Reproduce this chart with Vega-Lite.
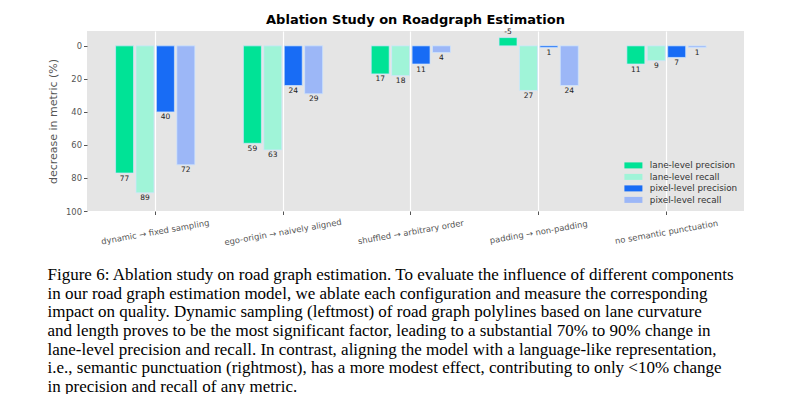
{
  "$schema": "https://vega.github.io/schema/vega-lite/v6.json",
  "padding": {"left": 47, "top": 14, "right": 5, "bottom": 0},
  "background": "white",
  "title": {
    "text": [
      "Figure 6: Ablation study on road graph estimation. To evaluate the influence of different components",
      "in our road graph estimation model, we ablate each configuration and measure the corresponding",
      "impact on quality. Dynamic sampling (leftmost) of road graph polylines based on lane curvature",
      "and length proves to be the most significant factor, leading to a substantial 70% to 90% change in",
      "lane-level precision and recall. In contrast, aligning the model with a language-like representation,",
      "i.e., semantic punctuation (rightmost), has a more modest effect, contributing to only <10% change",
      "in precision and recall of any metric."
    ],
    "orient": "bottom",
    "anchor": "start",
    "frame": "bounds",
    "font": "Liberation Serif",
    "fontSize": 17,
    "fontWeight": "normal",
    "lineHeight": 18.6,
    "color": "black",
    "offset": 21
  },
  "datasets": {
    "bars": [
      {"config": "dynamic → fixed sampling", "metric": "lane-level precision", "value": 77},
      {"config": "dynamic → fixed sampling", "metric": "lane-level recall", "value": 89},
      {"config": "dynamic → fixed sampling", "metric": "pixel-level precision", "value": 40},
      {"config": "dynamic → fixed sampling", "metric": "pixel-level recall", "value": 72},
      {"config": "ego-origin → naively aligned", "metric": "lane-level precision", "value": 59},
      {"config": "ego-origin → naively aligned", "metric": "lane-level recall", "value": 63},
      {"config": "ego-origin → naively aligned", "metric": "pixel-level precision", "value": 24},
      {"config": "ego-origin → naively aligned", "metric": "pixel-level recall", "value": 29},
      {"config": "shuffled → arbitrary order", "metric": "lane-level precision", "value": 17},
      {"config": "shuffled → arbitrary order", "metric": "lane-level recall", "value": 18},
      {"config": "shuffled → arbitrary order", "metric": "pixel-level precision", "value": 11},
      {"config": "shuffled → arbitrary order", "metric": "pixel-level recall", "value": 4},
      {"config": "padding → non-padding", "metric": "lane-level precision", "value": -5},
      {"config": "padding → non-padding", "metric": "lane-level recall", "value": 27},
      {"config": "padding → non-padding", "metric": "pixel-level precision", "value": 1},
      {"config": "padding → non-padding", "metric": "pixel-level recall", "value": 24},
      {"config": "no semantic punctuation", "metric": "lane-level precision", "value": 11},
      {"config": "no semantic punctuation", "metric": "lane-level recall", "value": 9},
      {"config": "no semantic punctuation", "metric": "pixel-level precision", "value": 7},
      {"config": "no semantic punctuation", "metric": "pixel-level recall", "value": 1}
    ]
  },
  "resolve": {"legend": {"color": "independent"}},
  "vconcat": [
    {
      "width": 657,
      "height": 180,
      "title": {
        "text": "Ablation Study on Roadgraph Estimation",
        "font": "DejaVu Sans",
        "fontSize": 13,
        "fontWeight": "bold",
        "color": "black",
        "anchor": "middle",
        "offset": 1
      },
      "data": {"name": "bars"},
      "encoding": {
        "x": {
          "field": "config",
          "type": "nominal",
          "sort": ["dynamic → fixed sampling", "ego-origin → naively aligned", "shuffled → arbitrary order", "padding → non-padding", "no semantic punctuation"],
          "scale": {"paddingInner": 0.38, "paddingOuter": 0.26, "align": 0.43},
          "axis": {
            "title": null,
            "labelAngle": -10,
            "labelAlign": "center",
            "labelBaseline": "middle",
            "labelPadding": 17,
            "labelFont": "DejaVu Sans",
            "labelFontSize": 8.4,
            "labelColor": "#555555",
            "grid": true,
            "gridColor": "white",
            "gridWidth": 1.2,
            "domain": false,
            "tickSize": 3.5,
            "tickColor": "#555555"
          }
        },
        "xOffset": {
          "field": "metric",
          "type": "nominal",
          "sort": ["lane-level precision", "lane-level recall", "pixel-level precision", "pixel-level recall"],
          "scale": {"paddingInner": 0.12, "paddingOuter": 0}
        },
        "y": {
          "field": "value",
          "type": "quantitative",
          "scale": {"domain": [-9, 100], "reverse": true, "nice": false, "zero": false},
          "axis": {
            "values": [0, 20, 40, 60, 80, 100],
            "labelOverlap": false,
            "title": "decrease in metric (%)",
            "titleFont": "DejaVu Sans",
            "titleFontSize": 11,
            "titleFontWeight": "normal",
            "titleColor": "#555555",
            "titlePadding": 7,
            "labelFont": "DejaVu Sans",
            "labelFontSize": 8.4,
            "labelColor": "#555555",
            "labelPadding": 2,
            "tickColor": "#555555",
            "tickSize": 3.5,
            "domain": false,
            "grid": false
          }
        }
      },
      "layer": [
        {
          "mark": {"type": "bar", "stroke": "#cfe6ff", "strokeWidth": 1, "strokeOpacity": 0.7},
          "encoding": {
            "y2": {"datum": 0},
            "color": {
              "field": "metric",
              "type": "nominal",
              "sort": ["lane-level precision", "lane-level recall", "pixel-level precision", "pixel-level recall"],
              "scale": {
                "domain": ["lane-level precision", "lane-level recall", "pixel-level precision", "pixel-level recall"],
                "range": ["#00e396", "#a0f4d8", "#186cf5", "#9cb7f7"]
              },
              "legend": {
                "title": null,
                "orient": "bottom-right",
                "offset": 6,
                "labelFont": "DejaVu Sans",
                "labelFontSize": 8.8,
                "labelColor": "#333333",
                "symbolType": "M-3,-1H3V1H-3Z",
                "symbolSize": 36,
                "symbolStrokeWidth": 0,
                "symbolOpacity": 1,
                "rowPadding": 1.5,
                "labelOffset": 12
              }
            }
          }
        },
        {
          "transform": [{"filter": "datum.value >= 0"}],
          "mark": {"type": "text", "baseline": "top", "dy": 1.5, "font": "DejaVu Sans", "fontSize": 7.5, "color": "#222222"},
          "encoding": {
            "text": {"field": "value", "type": "nominal"}
          }
        },
        {
          "transform": [{"filter": "datum.value < 0"}],
          "mark": {"type": "text", "baseline": "bottom", "dy": -1.5, "font": "DejaVu Sans", "fontSize": 7.5, "color": "#222222"},
          "encoding": {
            "text": {"field": "value", "type": "nominal"}
          }
        }
      ]
    }
  ],
  "config": {
    "view": {"fill": "#e5e5e5", "stroke": null},
    "concat": {"spacing": 0}
  }
}
